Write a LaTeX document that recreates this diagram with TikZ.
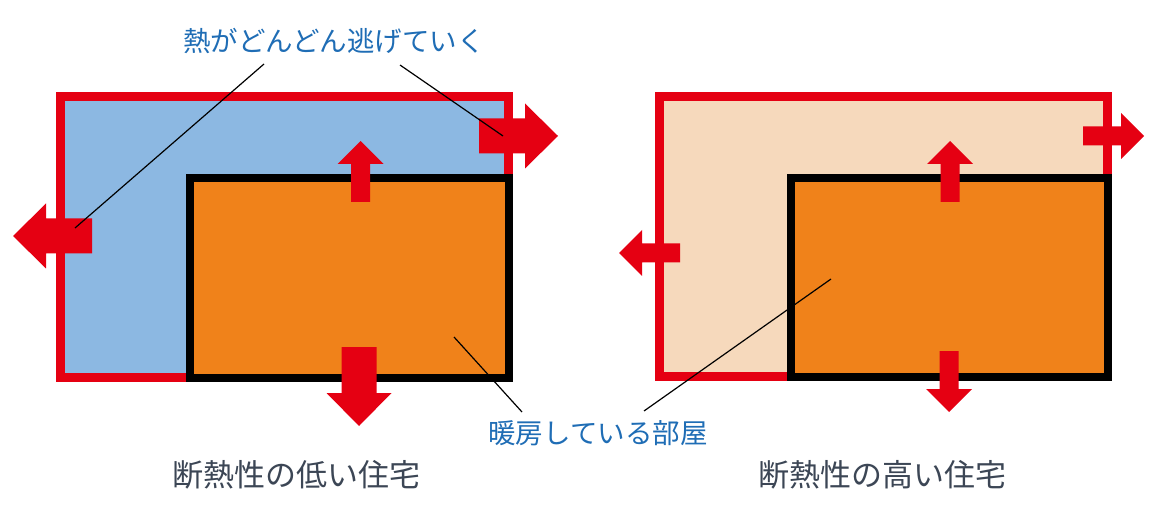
\documentclass[tikz,border=0pt]{standalone}
\usepackage{fontspec}
\setmainfont{Noto Sans CJK JP}
\definecolor{heatred}{HTML}{E50012}
\definecolor{coldblue}{HTML}{8CB8E2}
\definecolor{warmbeige}{HTML}{F6D9BC}
\definecolor{roomorange}{HTML}{F0821A}
\definecolor{labelblue}{HTML}{1F6DB5}
\definecolor{titlegray}{HTML}{3C4655}
% block arrows: start point, direction angle
\newcommand{\bigheat}[2]{\fill[heatred,shift={#1},rotate=#2] (0,-17.5) -- (46,-17.5) -- (46,-32.5) -- (79,0) -- (46,32.5) -- (46,17.5) -- (0,17.5) -- cycle;}
\newcommand{\smallheat}[2]{\fill[heatred,shift={#1},rotate=#2] (0,-9.5) -- (38,-9.5) -- (38,-23) -- (61,0) -- (38,23) -- (38,9.5) -- (0,9.5) -- cycle;}
\begin{document}
\begin{tikzpicture}[x=1pt,y=-1pt,
	wall/.style={draw=heatred,line width=9pt,line join=miter},
	room/.style={draw=black,line width=8pt,fill=roomorange,line join=miter},
	leader/.style={draw=black,line width=1.2pt},
	callout/.style={text=labelblue,font=\fontsize{27.5}{32}\selectfont,inner sep=0pt},
	caption/.style={text=titlegray,font=\fontsize{31}{36}\selectfont,inner sep=0pt}]
		\useasboundingbox (0,0) rectangle (1166,510);
		% Poorly insulated house
		\draw[wall,fill=coldblue] (60.5,96.5) rectangle (508.5,377.5);
		\draw[room] (190,178) rectangle (509,378);
		\smallheat{(360.5,202)}{90}
		\bigheat{(479,136)}{0}
		\bigheat{(92,236)}{180}
		\bigheat{(359,347)}{270}
		% Well insulated house
		\draw[wall,fill=warmbeige] (659.5,96.5) rectangle (1107.5,376.5);
		\draw[room] (791,178) rectangle (1108,377);
		\smallheat{(950,202)}{90}
		\smallheat{(1083,136)}{0}
		\smallheat{(680,253)}{180}
		\smallheat{(949,351)}{270}
		% Labels
		\node[callout] (escape) at (334,41) {熱がどんどん逃げていく};
		\node[callout] (heated) at (598,433) {暖房している部屋};
		\node[caption] (lowtitle) at (296,475) {断熱性の低い住宅};
		\node[caption] (hightitle) at (882,475) {断熱性の高い住宅};
		% Leader lines
		\coordinate (escL) at (264,64);
		\coordinate (escR) at (400,65);
		\coordinate (leftout) at (75,228);
		\coordinate (rightout) at (503,136);
		\coordinate (heatL) at (522,412);
		\coordinate (heatR) at (644,411);
		\coordinate (roomlow) at (454,337);
		\coordinate (roomhigh) at (831,279);
		\draw[leader] (escL) -- (leftout);
		\draw[leader] (escR) -- (rightout);
		\draw[leader] (heatL) -- (roomlow);
		\draw[leader] (heatR) -- (roomhigh);
\end{tikzpicture}
\end{document}
